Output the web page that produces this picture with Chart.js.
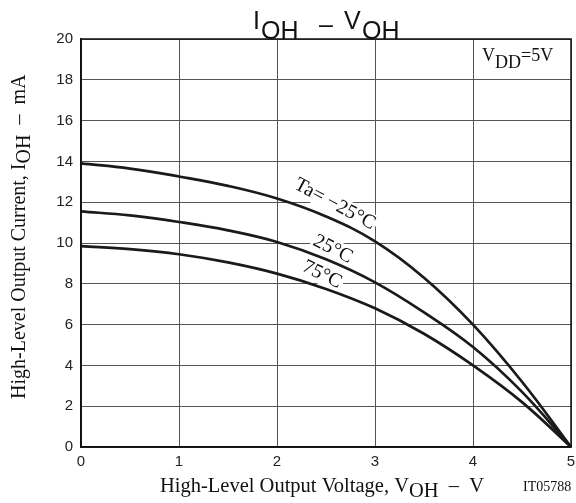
<!DOCTYPE html>
<html>
<head>
<meta charset="utf-8">
<script src="https://cdn.jsdelivr.net/npm/chart.js@4.4.0/dist/chart.umd.min.js"></script>
<style>
html,body{margin:0;padding:0;background:#fff;}
#wrap{width:576px;height:503px;position:relative;}
</style>
</head>
<body>
<div id="wrap"><canvas id="c" width="576" height="503"></canvas></div>
<script>
// Data
const voltage = [0, 0.5, 1, 1.5, 2, 2.5, 3, 3.5, 4, 4.5, 5];
const iohMinus25 = [13.9, 13.65, 13.26, 12.8, 12.18, 11.3, 10.08, 8.3, 6.0, 3.2, 0];
const ioh25 = [11.55, 11.35, 11.03, 10.62, 10.05, 9.2, 8.07, 6.6, 4.9, 2.7, 0];
const ioh75 = [9.85, 9.7, 9.45, 9.05, 8.5, 7.75, 6.8, 5.55, 4.0, 2.2, 0];
const xTicks = [0, 1, 2, 3, 4, 5];
const yTicks = [0, 2, 4, 6, 8, 10, 12, 14, 16, 18, 20];
const curveLabels = ["Ta= \u221225\u00b0C", "25\u00b0C", "75\u00b0C"];

function pts(ys){ return voltage.map((v,i)=>({x:v,y:ys[i]})); }

const serif = "'Liberation Serif', 'Times New Roman', serif";
const sans = "'Liberation Sans', Arial, sans-serif";

const decor = {
  id:'decor',
  beforeDatasetsDraw(chart){
    const ctx = chart.ctx;
    const xs = chart.scales.x, ys = chart.scales.y;
    const lab = (t, vx, vy, ang, size) => {
      ctx.save();
      ctx.translate(xs.getPixelForValue(vx), ys.getPixelForValue(vy));
      ctx.rotate(ang * Math.PI/180);
      ctx.font = size + "px " + serif;
      ctx.textAlign = 'center'; ctx.textBaseline = 'middle';
      ctx.fillStyle = '#fff';
      const tw = ctx.measureText(t).width;
      ctx.fillRect(-tw/2 - 2, -size/2, tw + 4, size);
      ctx.fillStyle = '#111';
      ctx.fillText(t, 0, 0);
      ctx.restore();
    };
    lab(curveLabels[0], 2.59, 11.9, 28, 20);
    lab(curveLabels[1], 2.57, 9.7, 27, 20);
    lab(curveLabels[2], 2.46, 8.45, 26, 20);
  },
  afterDraw(chart){
    const ctx = chart.ctx, a = chart.chartArea;
    ctx.save();
    // frame
    ctx.strokeStyle = '#111'; ctx.lineWidth = 1.5;
    ctx.strokeRect(a.left, a.top, a.right - a.left, a.bottom - a.top);
    ctx.fillStyle = '#111';
    ctx.textBaseline = 'alphabetic';
    ctx.textAlign = 'left';
    // Title: I_OH - V_OH
    ctx.font = "25px " + sans;
    ctx.fillText('I', 253, 29);
    ctx.fillText('OH', 261, 39);
    ctx.fillText('\u2013', 319, 33);
    ctx.fillText('V', 344, 29);
    ctx.fillText('OH', 362, 39);
    // VDD=5V
    ctx.font = "18px " + serif;
    let x = 482;
    ctx.fillText('V', x, 61); x += ctx.measureText('V').width;
    ctx.fillText('DD', x, 68); x += ctx.measureText('DD').width;
    ctx.fillText('=5V', x, 61);
    // x-axis title
    ctx.font = "20.5px " + serif;
    x = 160;
    const y0 = 492;
    ctx.fillText('High-Level Output Voltage, V', x, y0); x += ctx.measureText('High-Level Output Voltage, V').width;
    ctx.fillText('OH', x, y0 + 5); x += ctx.measureText('OH').width;
    ctx.fillText('  \u2013  V', x, y0);
    ctx.font = "14px " + serif;
    ctx.fillText('IT05788', 523, 491);
    // y-axis title
    ctx.save();
    ctx.translate(25, 0);
    ctx.rotate(-Math.PI/2);
    ctx.font = "20px " + serif;
    const s1 = 'High-Level Output Current, I', s2 = 'OH', s3 = '  \u2013  mA';
    let q = -399;
    ctx.fillText(s1, q, 0); q += ctx.measureText(s1).width;
    ctx.fillText(s2, q, 5); q += ctx.measureText(s2).width;
    ctx.fillText(s3, q, 0);
    ctx.restore();
    ctx.restore();
  }
};

const lineDs = (ys) => ({
  data: pts(ys), showLine: true, borderColor: '#1a1a1a', borderWidth: 2.7,
  pointRadius: 0, fill: false, tension: 0.4
});

new Chart(document.getElementById('c'), {
  type: 'scatter',
  data: { datasets: [lineDs(iohMinus25), lineDs(ioh25), lineDs(ioh75)] },
  options: {
    responsive: false, animation: false,
    layout: { padding: { top: 39, right: 0, left: 0, bottom: 0 } },
    plugins: { legend: { display: false }, tooltip: { enabled: false } },
    scales: {
      x: {
        type: 'linear', min: 0, max: 5,
        afterFit(s){ s.height = 56; s.paddingRight = 5; s.paddingLeft = 0; },
        afterBuildTicks(s){ s.ticks = xTicks.map(v=>({value:v})); },
        grid: { color: '#555', lineWidth: 1, drawTicks: false },
        border: { color: '#111', width: 1.5 },
        ticks: { color: '#222', font: { family: sans, size: 15 }, padding: 6 }
      },
      y: {
        type: 'linear', min: 0, max: 20,
        afterFit(s){ s.width = 81; s.paddingTop = 0; s.paddingBottom = 0; },
        afterBuildTicks(s){ s.ticks = yTicks.map(v=>({value:v})); },
        grid: { color: '#555', lineWidth: 1, drawTicks: false },
        border: { color: '#111', width: 1.5 },
        ticks: { color: '#222', font: { family: sans, size: 15 }, padding: 8 }
      }
    }
  },
  plugins: [decor]
});
</script>
</body>
</html>
